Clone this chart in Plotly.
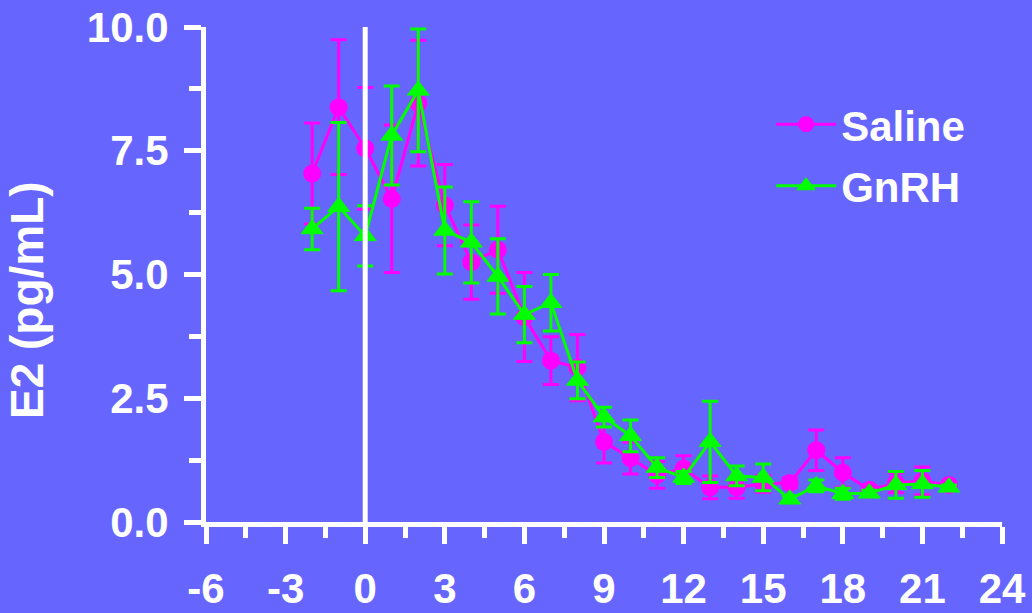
import plotly.graph_objects as go

# Data
days = [-2, -1, 0, 1, 2, 3, 4, 5, 6, 7, 8, 9, 10, 11, 12, 13, 14, 15, 16, 17, 18, 19, 20, 21, 22]

saline_mean = [7.04, 8.38, 7.55, 6.53, 8.46, 6.40, 5.25, 5.50, 4.14, 3.26, 3.12, 1.62, 1.29, 0.95, 1.08,
               0.70, 0.70, 0.77, 0.79, 1.45, 1.00, 0.65, 0.79, 0.83, 0.75]
saline_sem = [1.02, 1.36, 1.23, 1.49, 1.27, 0.82, 0.75, 0.88, 0.90, 0.48, 0.67, 0.43, 0.32, 0.27, 0.26,
              0.23, 0.22, 0.17, 0.10, 0.41, 0.30, 0.08, 0.20, 0.28, 0.05]

gnrh_mean = [5.92, 6.37, 5.78, 7.81, 8.72, 5.89, 5.65, 4.96, 4.19, 4.43, 2.86, 2.12, 1.74, 1.10, 0.90,
             1.62, 0.93, 0.90, 0.46, 0.73, 0.57, 0.58, 0.75, 0.77, 0.70]
gnrh_sem = [0.42, 1.70, 0.61, 1.00, 1.24, 0.88, 0.82, 0.76, 0.57, 0.57, 0.37, 0.20, 0.32, 0.20, 0.12,
            0.82, 0.20, 0.27, 0.07, 0.12, 0.11, 0.06, 0.27, 0.27, 0.05]

series_names = ["Saline", "GnRH"]
x_ticks = [-6, -3, 0, 3, 6, 9, 12, 15, 18, 21, 24]
y_ticks = [0.0, 2.5, 5.0, 7.5, 10.0]
y_title = "E2 (pg/mL)"

BG = "#6666FF"
MAGENTA = "#FF00FF"
GREEN = "#00FF00"
FONT = "Liberation Sans, Arial, sans-serif"

fig = go.Figure()

fig.add_trace(go.Scatter(
    x=days, y=saline_mean, name=series_names[0], mode="lines+markers",
    line=dict(color=MAGENTA, width=3),
    marker=dict(symbol="circle", size=18, color=MAGENTA),
    error_y=dict(type="data", array=saline_sem, visible=True, color=MAGENTA, thickness=3, width=8),
    legendgroup="a",
))
fig.add_trace(go.Scatter(
    x=days, y=gnrh_mean, name=series_names[1], mode="lines+markers",
    line=dict(color=GREEN, width=3),
    marker=dict(symbol="triangle-up", size=19, color=GREEN, line=dict(color=GREEN, width=1)),
    error_y=dict(type="data", array=gnrh_sem, visible=True, color=GREEN, thickness=3, width=8),
    legendgroup="b",
))

# vertical line at day 0
fig.add_shape(type="line", x0=0, x1=0, y0=0, y1=10.1, xref="x", yref="y",
              line=dict(color="white", width=5), layer="above")

tickfont = dict(family=FONT, size=42, color="white", weight="bold")

fig.update_layout(
    width=1032, height=613,
    paper_bgcolor=BG, plot_bgcolor=BG,
    margin=dict(l=206, r=30, t=27, b=91, autoexpand=False),
    showlegend=True,
    legend=dict(
        x=0.710, y=0.872, xanchor="left", yanchor="top",
        bgcolor="rgba(0,0,0,0)", borderwidth=0,
        font=dict(family=FONT, size=42, color="white", weight="bold"),
        traceorder="grouped", tracegroupgap=4, itemwidth=60,
    ),
    xaxis=dict(
        range=[-6, 24], tickvals=x_ticks, ticktext=[str(v) for v in x_ticks],
        showgrid=False, zeroline=False, automargin=False,
        showline=True, linecolor="white", linewidth=5,
        ticks="outside", ticklen=17, tickwidth=5, tickcolor="white",
        minor=dict(dtick=1.5, tick0=-6, ticks="outside", ticklen=11, tickwidth=5, tickcolor="white", showgrid=False),
        tickfont=tickfont, ticklabelstandoff=9,
    ),
    yaxis=dict(
        range=[0, 10], tickvals=y_ticks, tickformat=".1f",
        showgrid=False, zeroline=False, automargin=False,
        showline=True, linecolor="white", linewidth=5,
        ticks="outside", ticklen=17, tickwidth=5, tickcolor="white",
        minor=dict(dtick=1.25, tick0=0, ticks="outside", ticklen=12, tickwidth=5, tickcolor="white", showgrid=False),
        tickfont=tickfont, ticklabelstandoff=7,
    ),
)

fig.add_annotation(
    text=y_title, xref="paper", yref="paper",
    x=(27 - 206) / 796, y=(522 - 300) / 495,
    xanchor="center", yanchor="middle", textangle=-90, showarrow=False,
    font=dict(family=FONT, size=46, color="white", weight="bold"),
)

post = ("document.documentElement.style.margin='0';document.body.style.margin='0';"
        "document.body.style.padding='0';document.body.style.background='" + BG + "';"
        "document.body.style.overflow='hidden';")
fig.write_html("out.html", post_script=post, config={"displayModeBar": False})
